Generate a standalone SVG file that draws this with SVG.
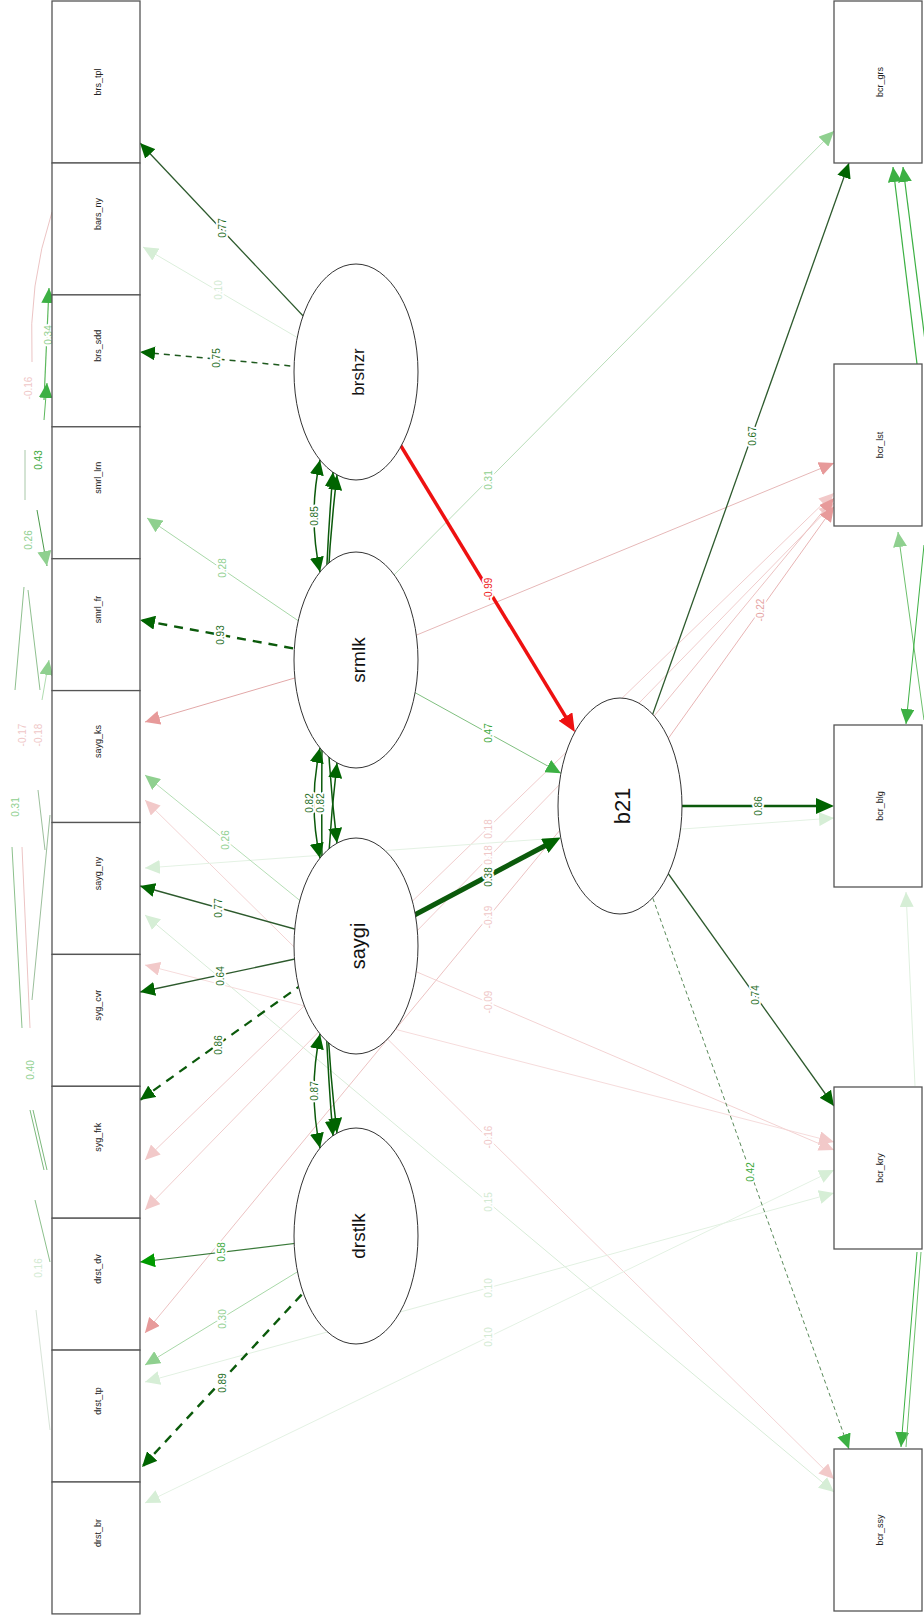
<svg xmlns="http://www.w3.org/2000/svg" width="924" height="1619" viewBox="0 0 924 1619">
<style>
.box{fill:#fff;stroke:#555;stroke-width:1.3}
.ell{fill:#fff;stroke:#333;stroke-width:1}
.bl{font-family:"Liberation Sans",Arial,sans-serif;font-size:9px;fill:#222;text-anchor:middle;dominant-baseline:central}
.ll{font-family:"Liberation Sans",Arial,sans-serif;fill:#111;text-anchor:middle;dominant-baseline:central}
.el{font-family:"Liberation Sans",Arial,sans-serif;font-size:10px;text-anchor:middle;dominant-baseline:central;stroke:#fff;stroke-width:4;paint-order:stroke;stroke-linejoin:round}
.e{fill:none}
.d{fill:#1f6e1f}.lg{fill:#8fcf8f}.vl{fill:#d2ead2}.pk{fill:#e5a3a3}.lp{fill:#efc7c7}.mg{fill:#3aa83a}.rd{fill:#ee2222}
</style>
<defs>
<marker id="m-dg" viewBox="0 0 15 14" refX="15" refY="7" markerWidth="15" markerHeight="14" orient="auto-start-reverse" markerUnits="userSpaceOnUse"><path d="M0,0L15,7L0,14z" fill="#006400"/></marker>
<marker id="m-g" viewBox="0 0 15 14" refX="15" refY="7" markerWidth="15" markerHeight="14" orient="auto-start-reverse" markerUnits="userSpaceOnUse"><path d="M0,0L15,7L0,14z" fill="#009a00"/></marker>
<marker id="m-mg" viewBox="0 0 15 14" refX="15" refY="7" markerWidth="15" markerHeight="14" orient="auto-start-reverse" markerUnits="userSpaceOnUse"><path d="M0,0L15,7L0,14z" fill="#3cb043"/></marker>
<marker id="m-lg" viewBox="0 0 15 14" refX="15" refY="7" markerWidth="15" markerHeight="14" orient="auto-start-reverse" markerUnits="userSpaceOnUse"><path d="M0,0L15,7L0,14z" fill="#8fd08f"/></marker>
<marker id="m-vlg" viewBox="0 0 15 14" refX="15" refY="7" markerWidth="15" markerHeight="14" orient="auto-start-reverse" markerUnits="userSpaceOnUse"><path d="M0,0L15,7L0,14z" fill="#d6eed6"/></marker>
<marker id="m-pk" viewBox="0 0 15 14" refX="15" refY="7" markerWidth="15" markerHeight="14" orient="auto-start-reverse" markerUnits="userSpaceOnUse"><path d="M0,0L15,7L0,14z" fill="#e79a9a"/></marker>
<marker id="m-lpk" viewBox="0 0 15 14" refX="15" refY="7" markerWidth="15" markerHeight="14" orient="auto-start-reverse" markerUnits="userSpaceOnUse"><path d="M0,0L15,7L0,14z" fill="#f2c9c9"/></marker>
<marker id="m-dgT" viewBox="0 0 18 16" refX="10" refY="8" markerWidth="18" markerHeight="16" orient="auto" markerUnits="userSpaceOnUse"><path d="M0,0L18,8L0,16z" fill="#006400"/></marker>
<marker id="m-redT" viewBox="0 0 18 16" refX="10" refY="8" markerWidth="18" markerHeight="16" orient="auto" markerUnits="userSpaceOnUse"><path d="M0,0L18,8L0,16z" fill="#ee1111"/></marker>
</defs>
<rect width="924" height="1619" fill="#fff"/>
<g id="connectors">
  <path class="e" d="M145,800L834,1479" stroke="#f3d3d3" marker-start="url(#m-lpk)" marker-end="url(#m-lpk)"/>
  <path class="e" d="M145,915L834,1492" stroke="#d8ecd8" marker-start="url(#m-vlg)" marker-end="url(#m-vlg)"/>
  <path class="e" d="M145,965L834,1142" stroke="#f6dcdc" marker-start="url(#m-lpk)" marker-end="url(#m-lpk)"/>
  <path class="e" d="M145,1160L834,493" stroke="#f0cccc" marker-start="url(#m-lpk)" marker-end="url(#m-lpk)"/>
  <path class="e" d="M145,1210L834,503" stroke="#f0cccc" marker-start="url(#m-lpk)" marker-end="url(#m-lpk)"/>
  <path class="e" d="M145,1333L834,498" stroke="#ecc2c2" marker-start="url(#m-pk)" marker-end="url(#m-pk)"/>
  <path class="e" d="M145,1382L834,1193" stroke="#e2f1e2" marker-start="url(#m-vlg)" marker-end="url(#m-vlg)"/>
  <path class="e" d="M145,1503L834,1170" stroke="#e4f2e4" marker-start="url(#m-vlg)" marker-end="url(#m-vlg)"/>
  <path class="e" d="M145,868L834,818" stroke="#e4f2e4" marker-start="url(#m-vlg)" marker-end="url(#m-vlg)"/>
  <path class="e" d="M52,212Q28,285 32,362" stroke="#ecc4c4"/>
  <path class="e" d="M49,288L44,400" stroke="#5cb85c" stroke-width="1.2" marker-start="url(#m-mg)"/>
  <path class="e" d="M47,383L44,420" stroke="#5cb85c" marker-start="url(#m-mg)"/>
  <path class="e" d="M25,450L25,500" stroke="#a8c8a8"/>
  <path class="e" d="M37,510L47,566" stroke="#4a9a4a" marker-end="url(#m-lg)"/>
  <path class="e" d="M24,587L15,690M28,590L40,690" stroke="#8fc08f"/>
  <path class="e" d="M42,700L49,660" stroke="#b0dcb0" marker-end="url(#m-lg)"/>
  <path class="e" d="M38,790L45,850" stroke="#9cbf9c"/>
  <path class="e" d="M50,815L32,1000" stroke="#9cbf9c"/>
  <path class="e" d="M12,847L22,1028" stroke="#8cc08c"/>
  <path class="e" d="M22,847L30,1028" stroke="#ecc4c4"/>
  <path class="e" d="M30,1110L44,1170M33,1110L47,1170" stroke="#7cb87c"/>
  <path class="e" d="M35,1200L50,1262" stroke="#8cc08c"/>
  <path class="e" d="M36,1310L50,1430" stroke="#d8e4d8"/>
  <path class="e" d="M893,167L917,364" stroke="#3cb043" stroke-width="1.2" marker-start="url(#m-mg)"/>
  <path class="e" d="M903,167L930,380" stroke="#3cb043" stroke-width="1.2" marker-start="url(#m-mg)"/>
  <path class="e" d="M898,532L924,720" stroke="#6cc06c" marker-start="url(#m-lg)"/>
  <path class="e" d="M924,545L906,724" stroke="#3cb043" marker-end="url(#m-mg)"/>
  <path class="e" d="M906,892L915,1086" stroke="#dff0df" marker-start="url(#m-vlg)"/>
  <path class="e" d="M917,1252L901,1447" stroke="#3cb043" marker-end="url(#m-mg)"/>
  <path class="e" d="M921,1252L906,1447" stroke="#6cc06c"/>
  <path class="e" d="M337,475C322,600 322,720 337,843" stroke="#0b5a0b" stroke-width="1.5" marker-start="url(#m-dg)" marker-end="url(#m-dg)"/>
  <path class="e" d="M337,763C322,890 322,1010 337,1133" stroke="#0b5a0b" stroke-width="1.5" marker-start="url(#m-dg)" marker-end="url(#m-dg)"/>
  <path class="e" d="M333,472C318,650 318,960 333,1136" stroke="#0b5a0b" stroke-width="1.5" marker-start="url(#m-dg)" marker-end="url(#m-dg)"/>
  <path class="e" d="M320,460Q308,516 320,572" stroke="#0b5a0b" stroke-width="1.5" marker-start="url(#m-dg)" marker-end="url(#m-dg)"/>
  <path class="e" d="M320,748Q308,803 320,858" stroke="#0b5a0b" stroke-width="1.5" marker-start="url(#m-dg)" marker-end="url(#m-dg)"/>
  <path class="e" d="M320,1034Q308,1091 320,1148" stroke="#0b5a0b" stroke-width="1.5" marker-start="url(#m-dg)" marker-end="url(#m-dg)"/>
  <path class="e" d="M356,372L140,143" stroke="#2d5a2d" stroke-width="1.3" marker-end="url(#m-dg)"/>
  <path class="e" d="M356,372L143,247" stroke="#dcefdc" marker-end="url(#m-vlg)"/>
  <path class="e" d="M356,372L140,352" stroke="#1f5a1f" stroke-width="1.5" stroke-dasharray="6,5" marker-end="url(#m-dg)"/>
  <path class="e" d="M356,660L147,518" stroke="#a8d8a8" marker-end="url(#m-lg)"/>
  <path class="e" d="M356,660L140,620" stroke="#0b5a0b" stroke-width="2.4" stroke-dasharray="9,7" marker-end="url(#m-dg)"/>
  <path class="e" d="M356,660L145,722" stroke="#e2a8a8" marker-end="url(#m-pk)"/>
  <path class="e" d="M356,946L145,775" stroke="#b5deb5" marker-end="url(#m-lg)"/>
  <path class="e" d="M356,946L140,886" stroke="#2d5a2d" stroke-width="1.5" marker-end="url(#m-dg)"/>
  <path class="e" d="M356,946L140,992" stroke="#2d5a2d" stroke-width="1.3" marker-end="url(#m-dg)"/>
  <path class="e" d="M356,946L140,1100" stroke="#0b5a0b" stroke-width="2.2" stroke-dasharray="9,7" marker-end="url(#m-dg)"/>
  <path class="e" d="M356,1236L140,1262" stroke="#3a7a3a" stroke-width="1.2" marker-end="url(#m-g)"/>
  <path class="e" d="M356,1236L145,1365" stroke="#a8d8a8" marker-end="url(#m-lg)"/>
  <path class="e" d="M356,1236L142,1467" stroke="#0b5a0b" stroke-width="2.4" stroke-dasharray="9,7" marker-end="url(#m-dg)"/>
  <path class="e" d="M392,577L834,131" stroke="#b8ddb8" marker-end="url(#m-lg)"/>
  <path class="e" d="M356,660L834,463" stroke="#e6b8b8" marker-end="url(#m-pk)"/>
  <path class="e" d="M356,946L834,1150" stroke="#f3d3d3" marker-end="url(#m-lpk)"/>
  <path class="e" d="M356,660L560.9,773.3" stroke="#7fbf7f" marker-end="url(#m-mg)"/>
  <path class="e" d="M356,372L570.7,725.1" stroke="#ee1111" stroke-width="3.5" marker-end="url(#m-redT)"/>
  <path class="e" d="M356,946L553.6,841.2" stroke="#0b5a0b" stroke-width="5" marker-end="url(#m-dgT)"/>
  <path class="e" d="M682,806L826,806" stroke="#0b5a0b" stroke-width="2.5" marker-end="url(#m-dgT)"/>
  <path class="e" d="M620,806L849,163" stroke="#2d5a2d" stroke-width="1.3" marker-end="url(#m-dg)"/>
  <path class="e" d="M620,806L834,506.6" stroke="#e8b4b4" marker-end="url(#m-pk)"/>
  <path class="e" d="M620,806L834,1106" stroke="#2d5a2d" stroke-width="1.3" marker-end="url(#m-dg)"/>
  <path class="e" d="M620,806L849,1449" stroke="#5a8a5a" stroke-dasharray="4,3" marker-end="url(#m-mg)"/>
  <g class="el">
    <text class="d" x="222" y="228" transform="rotate(-90 222 228)">0.77</text>
    <text class="vl" x="218" y="290" transform="rotate(-90 218 290)">0.10</text>
    <text class="d" x="216" y="358" transform="rotate(-90 216 358)">0.75</text>
    <text class="lg" x="222" y="568" transform="rotate(-90 222 568)">0.28</text>
    <text class="d" x="220" y="635" transform="rotate(-90 220 635)">0.93</text>
    <text class="lg" x="225" y="840" transform="rotate(-90 225 840)">0.26</text>
    <text class="d" x="218" y="908" transform="rotate(-90 218 908)">0.77</text>
    <text class="d" x="220" y="976" transform="rotate(-90 220 976)">0.64</text>
    <text class="d" x="218" y="1045" transform="rotate(-90 218 1045)">0.86</text>
    <text class="mg" x="221" y="1252" transform="rotate(-90 221 1252)">0.58</text>
    <text class="lg" x="222" y="1319" transform="rotate(-90 222 1319)">0.30</text>
    <text class="d" x="222" y="1383" transform="rotate(-90 222 1383)">0.89</text>
    <text class="d" x="314" y="516" transform="rotate(-90 314 516)">0.85</text>
    <text class="d" x="309" y="803" transform="rotate(-90 309 803)">0.82</text>
    <text class="d" x="320" y="803" transform="rotate(-90 320 803)">0.82</text>
    <text class="d" x="314" y="1091" transform="rotate(-90 314 1091)">0.87</text>
    <text class="lg" x="488" y="480" transform="rotate(-90 488 480)">0.31</text>
    <text class="rd" x="488" y="589" transform="rotate(-90 488 589)">-0.99</text>
    <text class="mg" x="488" y="733" transform="rotate(-90 488 733)">0.47</text>
    <text class="lp" x="488" y="829" transform="rotate(-90 488 829)">0.18</text>
    <text class="lp" x="488" y="855" transform="rotate(-90 488 855)">0.18</text>
    <text class="d" x="488" y="877" transform="rotate(-90 488 877)">0.38</text>
    <text class="lp" x="488" y="917" transform="rotate(-90 488 917)">-0.19</text>
    <text class="lp" x="488" y="1002" transform="rotate(-90 488 1002)">-0.09</text>
    <text class="lp" x="488" y="1137" transform="rotate(-90 488 1137)">-0.16</text>
    <text class="vl" x="488" y="1202" transform="rotate(-90 488 1202)">0.15</text>
    <text class="vl" x="488" y="1288" transform="rotate(-90 488 1288)">0.10</text>
    <text class="vl" x="488" y="1337" transform="rotate(-90 488 1337)">0.10</text>
    <text class="d" x="752" y="436" transform="rotate(-90 752 436)">0.67</text>
    <text class="pk" x="760" y="610" transform="rotate(-90 760 610)">-0.22</text>
    <text class="d" x="758" y="806" transform="rotate(-90 758 806)">0.86</text>
    <text class="d" x="755" y="995" transform="rotate(-90 755 995)">0.74</text>
    <text class="mg" x="750" y="1172" transform="rotate(-90 750 1172)">0.42</text>
    <text class="lg" x="48" y="335" transform="rotate(-90 48 335)">0.34</text>
    <text class="lp" x="28" y="388" transform="rotate(-90 28 388)">-0.16</text>
    <text class="mg" x="38" y="460" transform="rotate(-90 38 460)">0.43</text>
    <text class="lg" x="28" y="540" transform="rotate(-90 28 540)">0.26</text>
    <text class="lp" x="22" y="735" transform="rotate(-90 22 735)">-0.17</text>
    <text class="lp" x="38" y="735" transform="rotate(-90 38 735)">-0.18</text>
    <text class="lg" x="15" y="807" transform="rotate(-90 15 807)">0.31</text>
    <text class="lg" x="30" y="1070" transform="rotate(-90 30 1070)">0.40</text>
    <text class="vl" x="38" y="1268" transform="rotate(-90 38 1268)">0.16</text>
  </g>
</g>
<g id="node-brs_tpl"><rect class="box" x="52" y="1" width="88" height="162"/><text class="bl" x="98" y="82" transform="rotate(-90 98 82)">brs_tpl</text></g>
<g id="node-bars_ny"><rect class="box" x="52" y="163" width="88" height="131.9"/><text class="bl" x="98" y="213.9" transform="rotate(-90 98 213.9)">bars_ny</text></g>
<g id="node-brs_sdd"><rect class="box" x="52" y="294.9" width="88" height="131.9"/><text class="bl" x="98" y="345.8" transform="rotate(-90 98 345.8)">brs_sdd</text></g>
<g id="node-smrl_lrn"><rect class="box" x="52" y="426.8" width="88" height="131.9"/><text class="bl" x="98" y="477.7" font-size="7" transform="rotate(-90 98 477.7)">smrl_lrn</text></g>
<g id="node-smrl_fr"><rect class="box" x="52" y="558.7" width="88" height="131.9"/><text class="bl" x="98" y="609.6" transform="rotate(-90 98 609.6)">smrl_fr</text></g>
<g id="node-sayg_ks"><rect class="box" x="52" y="690.6" width="88" height="131.9"/><text class="bl" x="98" y="741.5" transform="rotate(-90 98 741.5)">sayg_ks</text></g>
<g id="node-sayg_ny"><rect class="box" x="52" y="822.5" width="88" height="131.9"/><text class="bl" x="98" y="873.4" transform="rotate(-90 98 873.4)">sayg_ny</text></g>
<g id="node-syg_cvr"><rect class="box" x="52" y="954.4" width="88" height="131.9"/><text class="bl" x="98" y="1005.3" transform="rotate(-90 98 1005.3)">syg_cvr</text></g>
<g id="node-syg_frk"><rect class="box" x="52" y="1086.3" width="88" height="131.9"/><text class="bl" x="98" y="1137.2" transform="rotate(-90 98 1137.2)">syg_frk</text></g>
<g id="node-drst_dv"><rect class="box" x="52" y="1218.2" width="88" height="131.9"/><text class="bl" x="98" y="1269.1" transform="rotate(-90 98 1269.1)">drst_dv</text></g>
<g id="node-drst_tp"><rect class="box" x="52" y="1350.1" width="88" height="131.9"/><text class="bl" x="98" y="1401" transform="rotate(-90 98 1401)">drst_tp</text></g>
<g id="node-drst_br"><rect class="box" x="52" y="1482" width="88" height="131.9"/><text class="bl" x="98" y="1532.9" transform="rotate(-90 98 1532.9)">drst_br</text></g>
<g id="node-bcr_grs"><rect class="box" x="834" y="1" width="88" height="162"/><text class="bl" x="880" y="82" transform="rotate(-90 880 82)">bcr_grs</text></g>
<g id="node-bcr_lst"><rect class="box" x="834" y="364" width="88" height="162"/><text class="bl" x="880" y="445" transform="rotate(-90 880 445)">bcr_lst</text></g>
<g id="node-bcr_blg"><rect class="box" x="834" y="725" width="88" height="162"/><text class="bl" x="880" y="806" transform="rotate(-90 880 806)">bcr_blg</text></g>
<g id="node-bcr_kry"><rect class="box" x="834" y="1087" width="88" height="162"/><text class="bl" x="880" y="1168" transform="rotate(-90 880 1168)">bcr_kry</text></g>
<g id="node-bcr_ssy"><rect class="box" x="834" y="1449" width="88" height="162"/><text class="bl" x="880" y="1530" transform="rotate(-90 880 1530)">bcr_ssy</text></g>
<g id="node-brshzr"><ellipse class="ell" cx="356" cy="372" rx="62" ry="108"/><text class="ll" x="358" y="372" font-size="17" transform="rotate(-90 358 372)">brshzr</text></g>
<g id="node-srmlk"><ellipse class="ell" cx="356" cy="660" rx="62" ry="108"/><text class="ll" x="358" y="660" font-size="19" transform="rotate(-90 358 660)">srmlk</text></g>
<g id="node-saygi"><ellipse class="ell" cx="356" cy="946" rx="62" ry="108"/><text class="ll" x="358" y="946" font-size="20" transform="rotate(-90 358 946)">saygi</text></g>
<g id="node-drstlk"><ellipse class="ell" cx="356" cy="1236" rx="62" ry="108"/><text class="ll" x="358" y="1236" font-size="19" transform="rotate(-90 358 1236)">drstlk</text></g>
<g id="node-b21"><ellipse class="ell" cx="620" cy="806" rx="62" ry="108"/><text class="ll" x="622" y="806" font-size="22" transform="rotate(-90 622 806)">b21</text></g>
</svg>
